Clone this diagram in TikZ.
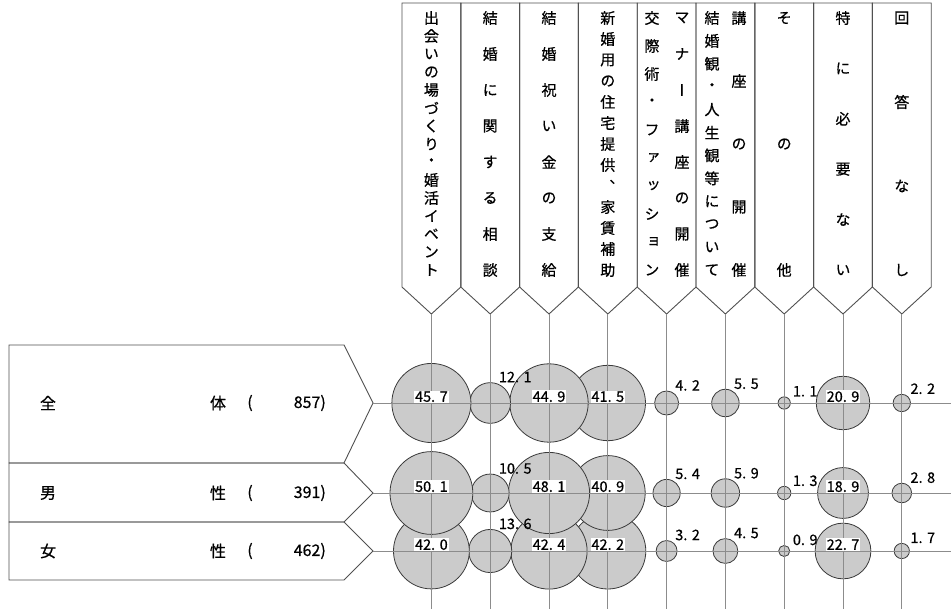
\documentclass[tikz,border=0pt]{standalone}
\usepackage{fontspec}
\setmainfont{Noto Sans CJK JP}[FakeBold=0.6]
\newfontfamily\vfont[RawFeature=+vert, FakeBold=0.6]{Noto Sans CJK JP}
\definecolor{boxc}{HTML}{505050}
\definecolor{gridc}{HTML}{8C8C8C}
\definecolor{bubfill}{HTML}{CBCBCB}
\definecolor{bubline}{HTML}{3A3A3A}
\tikzset{
  boxline/.style={draw=boxc, line width=0.9pt},
  gridline/.style={draw=gridc, line width=0.9pt},
  bub/.style={circle, draw=bubline, fill=bubfill, line width=0.8pt, inner sep=0pt},
  hdr/.style={font=\vfont\fontsize{15}{15}\selectfont, inner sep=0pt, text=black},
  rowtxt/.style={font=\fontsize{16}{16}\selectfont, inner sep=0pt},
  vlabc/.style={font=\fontsize{14.5}{14.5}\selectfont, fill=white, inner sep=0.8pt, anchor=south},
  vlabs/.style={font=\fontsize{14.5}{14.5}\selectfont, inner sep=0pt, anchor=base west},
}
\newcommand\vtext[4]{% name, x, n, list
  \foreach \ch [count=\k from 0] in {#4} {
    \node[hdr] (#1-\k) at (#2, {18+\k*252/(#3-1)}) {\ch};
  }}
\def\fwdot#1.#2\relax{#1.\kern4.5pt#2}
\newcommand\bubrow[3]{% row, cy, list i/v
  \foreach \i/\v in {#3} {
    \pgfmathsetmacro\dia{2*5.85*sqrt(\v)}
    \node[bub, minimum size=\dia pt] (b#1-\i) at ({402+58.8*(\i-0.5)}, #2) {};
  }}
\newcommand\labrow[2]{% row, list i/v
  \foreach \i/\v in {#2} {
    \pgfmathparse{\v>=15?1:0}
    \ifnum\pgfmathresult=1
      \node[vlabc] (l#1-\i) at (b#1-\i.center) {\expandafter\fwdot\v\relax};
    \else
      \node[vlabs] (l#1-\i) at ([xshift=8.5pt]b#1-\i.north) {\expandafter\fwdot\v\relax};
    \fi
  }}
\begin{document}
\begin{tikzpicture}[x=1pt, y=-1pt]
\useasboundingbox (0,0) rectangle (951,609);
\coordinate (bot) at (0,609);
\coordinate (rgt) at (951,0);
% header boxes
\foreach \i in {1,...,9} {
  \pgfmathsetmacro\L{402+58.8*(\i-1)}
  \pgfmathsetmacro\R{402+58.8*\i}
  \pgfmathsetmacro\C{402+58.8*(\i-0.5)}
  \coordinate (h\i) at (\C,314);
  \draw[boxline] (\L,3) -- (\L,287) -- (h\i) -- (\R,287) -- (\R,3) -- cycle;
}
% row boxes
\coordinate (r1) at (373,403);
\coordinate (r2) at (373,493);
\coordinate (r3) at (373,551);
\draw[boxline] (9,345) -- (344,345) -- (r1) -- (344,463) -- (9,463) -- cycle;
\draw[boxline] (9,463) -- (344,463) -- (r2) -- (344,522) -- (9,522) -- cycle;
\draw[boxline] (9,522) -- (344,522) -- (r3) -- (344,580) -- (9,580) -- cycle;
% header texts
\vtext{c1}{431.4}{15}{出,会,い,の,場,づ,く,り,・,婚,活,イ,ベ,ン,ト}
\vtext{c2}{490.2}{8}{結,婚,に,関,す,る,相,談}
\vtext{c3}{549}{8}{結,婚,祝,い,金,の,支,給}
\vtext{c4}{607.8}{13}{新,婚,用,の,住,宅,提,供,、,家,賃,補,助}
\vtext{c5a}{652}{10}{交,際,術,・,フ,ァ,ッ,シ,ョ,ン}
\vtext{c5b}{682}{8}{マ,ナ,ー,講,座,の,開,催}
\vtext{c6a}{712}{12}{結,婚,観,・,人,生,観,等,に,つ,い,て}
\vtext{c6b}{739}{5}{講,座,の,開,催}
\vtext{c7}{784.2}{3}{そ,の,他}
\vtext{c8}{843}{6}{特,に,必,要,な,い}
\vtext{c9}{901.8}{4}{回,答,な,し}
% row texts
\node[rowtxt] (t1a) at (48,403) {全};
\node[rowtxt] (t1b) at (218,403) {体};
\node[rowtxt] (t1c) at (250,403) {(};
\node[rowtxt, anchor=east] (t1d) at (326,403) {857)};
\node[rowtxt] (t2a) at (48,493) {男};
\node[rowtxt] (t2b) at (218,493) {性};
\node[rowtxt] (t2c) at (250,493) {(};
\node[rowtxt, anchor=east] (t2d) at (326,493) {391)};
\node[rowtxt] (t3a) at (48,551) {女};
\node[rowtxt] (t3b) at (218,551) {性};
\node[rowtxt] (t3c) at (250,551) {(};
\node[rowtxt, anchor=east] (t3d) at (326,551) {462)};
% bubbles
\bubrow{3}{551}{9/1.7,8/22.7,7/0.9,6/4.5,5/3.2,4/42.2,3/42.4,2/13.6,1/42.0}
\bubrow{2}{493}{9/2.8,8/18.9,7/1.3,6/5.9,5/5.4,4/40.9,3/48.1,2/10.5,1/50.1}
\bubrow{1}{403}{9/2.2,8/20.9,7/1.1,6/5.5,5/4.2,4/41.5,3/44.9,2/12.1,1/45.7}
% grid lines
\foreach \i in {1,...,9} { \draw[gridline] (h\i) -- (h\i |- bot); }
\foreach \j in {1,2,3} { \draw[gridline] (r\j) -- (r\j -| rgt); }
% labels
\labrow{3}{9/1.7,8/22.7,7/0.9,6/4.5,5/3.2,4/42.2,3/42.4,2/13.6,1/42.0}
\labrow{2}{9/2.8,8/18.9,7/1.3,6/5.9,5/5.4,4/40.9,3/48.1,2/10.5,1/50.1}
\labrow{1}{9/2.2,8/20.9,7/1.1,6/5.5,5/4.2,4/41.5,3/44.9,2/12.1,1/45.7}
\end{tikzpicture}
\end{document}
